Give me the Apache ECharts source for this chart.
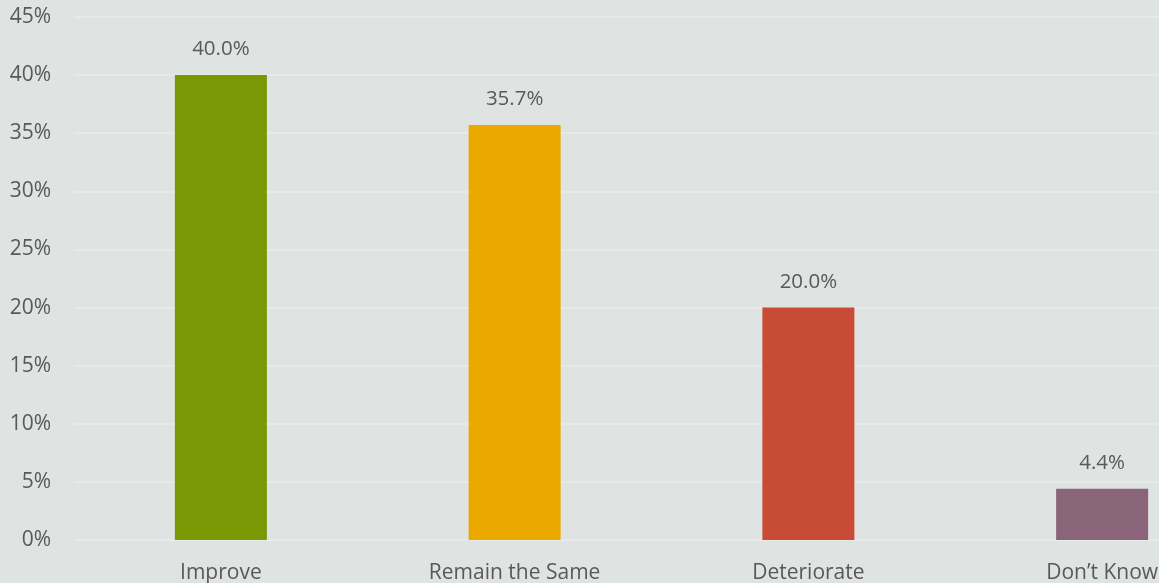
<!DOCTYPE html>
<html><head><meta charset="utf-8">
<script src="https://cdn.jsdelivr.net/npm/echarts@6/dist/echarts.min.js"></script>
<style>html,body{margin:0;padding:0;background:#dfe3e2;overflow:hidden;}#c{width:1159px;height:583px;}</style>
</head><body><div id="c"></div>
<script>
const categories = ["Improve", "Remain the Same", "Deteriorate", "Don\u2019t Know"];
const values = [40.0, 35.7, 20.0, 4.4];
const barColors = ["#789904", "#eba900", "#c84b36", "#8a6478"];
const yTicks = [0, 5, 10, 15, 20, 25, 30, 35, 40, 45];

const chart = echarts.init(document.getElementById('c'), null, {renderer: 'canvas'});
chart.setOption({
  backgroundColor: '#dfe3e2',
  animation: false,
  grid: {left: 74, right: -90, top: 17, bottom: 43, containLabel: false, outerBoundsMode: 'none'},
  xAxis: {
    type: 'category', data: categories,
    axisLine: {show: false}, axisTick: {show: false},
    axisLabel: {color: '#595959', fontSize: 21, fontFamily: 'Open Sans', margin: 23}
  },
  yAxis: {
    type: 'value', min: yTicks[0], max: yTicks[yTicks.length-1], interval: 5,
    axisLine: {show: false}, axisTick: {show: false},
    splitLine: {lineStyle: {color: '#eaecec', width: 1.5}},
    axisLabel: {color: '#595959', fontSize: 21, fontFamily: 'Open Sans', margin: 23, formatter: v => v + '%'}
  },
  series: [{
    type: 'bar', barWidth: 92,
    data: values.map((v, i) => ({value: v, itemStyle: {color: barColors[i]}})),
    label: {show: true, position: 'top', distance: 15, color: '#595959', fontSize: 20.5, fontFamily: 'Open Sans', formatter: p => p.value.toFixed(1) + '%'}
  }]
});
</script></body></html>
